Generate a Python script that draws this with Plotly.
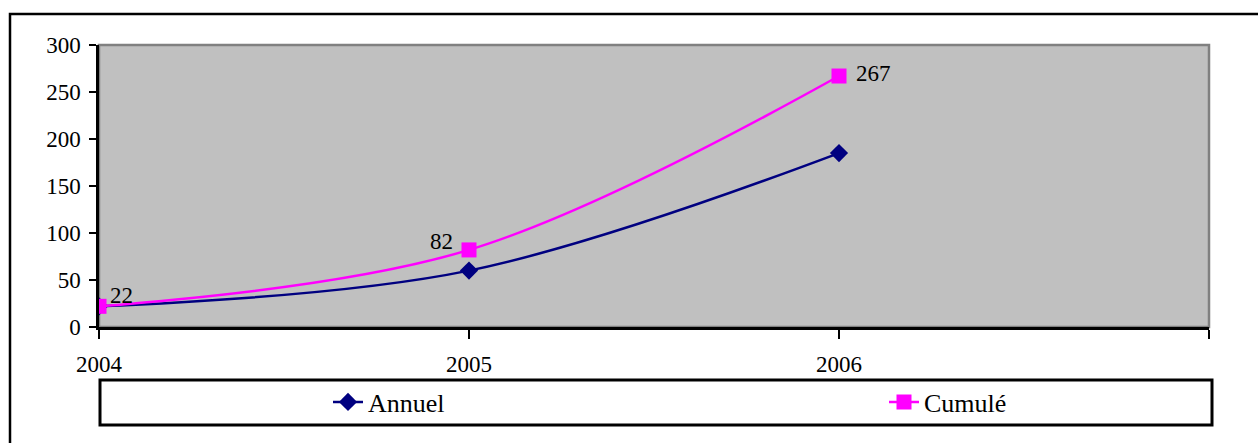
import plotly.graph_objects as go

years = [2004, 2005, 2006]
annuel = [22, 60, 185]
cumule = [22, 82, 267]
cumule_labels = ["22", "82", "267"]
x_tickvals = [2004, 2005, 2006, 2007]
x_ticktext = ["2004", "2005", "2006", ""]
y_tickvals = [0, 50, 100, 150, 200, 250, 300]

W, H = 1258, 443
L, R, T, B = 99, 49, 45, 116
pw, ph = W - L - R, H - T - B

def px_x(p):
    return (p - L) / pw

def px_y(p):
    return (H - B - p) / ph

FONT = "Liberation Serif, Times New Roman, serif"

fig = go.Figure()
fig.add_trace(go.Scatter(
    x=years, y=annuel, name="Annuel", mode="lines+markers", legend="legend",
    line=dict(color="#000080", width=2.5, shape="spline", smoothing=1),
    marker=dict(symbol="diamond", size=14, color="#000080"),
))
fig.add_trace(go.Scatter(
    x=years, y=cumule, name="Cumulé", mode="lines+markers", legend="legend2",
    line=dict(color="#FF00FF", width=2.5, shape="spline", smoothing=1),
    marker=dict(symbol="square", size=15, color="#FF00FF"),
))

# data labels for the cumulative series
label_pos = [
    dict(xanchor="left", xshift=9, yshift=11),
    dict(xanchor="right", xshift=-14, yshift=8),
    dict(xanchor="left", xshift=15, yshift=3),
]
annotations = []
for xv, yv, txt, pos in zip(years, cumule, cumule_labels, label_pos):
    annotations.append(dict(x=xv, y=yv, xref="x", yref="y", text=txt,
                            showarrow=False, yanchor="middle",
                            font=dict(family=FONT, size=23, color="black"), **pos))

shapes = [
    dict(type="rect", xref="paper", yref="paper", x0=0, x1=1, y0=0, y1=1,
         line=dict(color="#808080", width=2.5), layer="below"),
    dict(type="rect", xref="paper", yref="paper",
         x0=px_x(10), x1=px_x(1300), y0=px_y(480), y1=px_y(14),
         line=dict(color="black", width=2.5)),
    dict(type="rect", xref="paper", yref="paper",
         x0=px_x(100), x1=px_x(1212), y0=px_y(425), y1=px_y(380),
         line=dict(color="black", width=3)),
]

legend_common = dict(orientation="h", xanchor="left", yanchor="middle",
                     y=px_y(402), font=dict(family=FONT, size=26, color="black"),
                     bgcolor="rgba(0,0,0,0)", borderwidth=0)

fig.update_layout(
    width=W, height=H,
    margin=dict(l=L, r=R, t=T, b=B, autoexpand=False),
    paper_bgcolor="white", plot_bgcolor="#C0C0C0",
    font=dict(family=FONT, size=23, color="black"),
    showlegend=True,
    legend=dict(x=px_x(328), **legend_common),
    legend2=dict(x=px_x(884), **legend_common),
    shapes=shapes,
    annotations=annotations,
    xaxis=dict(range=[2004, 2007], tickvals=x_tickvals, ticktext=x_ticktext,
               showgrid=False, zeroline=False, showline=True, linecolor="black",
               linewidth=2.5, ticks="outside", ticklen=9, tickwidth=2,
               tickcolor="black", ticklabelstandoff=6,
               tickfont=dict(family=FONT, size=23, color="black")),
    yaxis=dict(range=[0, 300], tickvals=y_tickvals, showgrid=False, zeroline=False,
               showline=True, linecolor="black", linewidth=2.5, ticks="outside",
               ticklen=7, tickwidth=2, tickcolor="black", ticklabelstandoff=4,
               tickfont=dict(family=FONT, size=23, color="black")),
)

fig.write_html("out.html", config={"displayModeBar": False},
               post_script="document.body.style.margin='0';")
